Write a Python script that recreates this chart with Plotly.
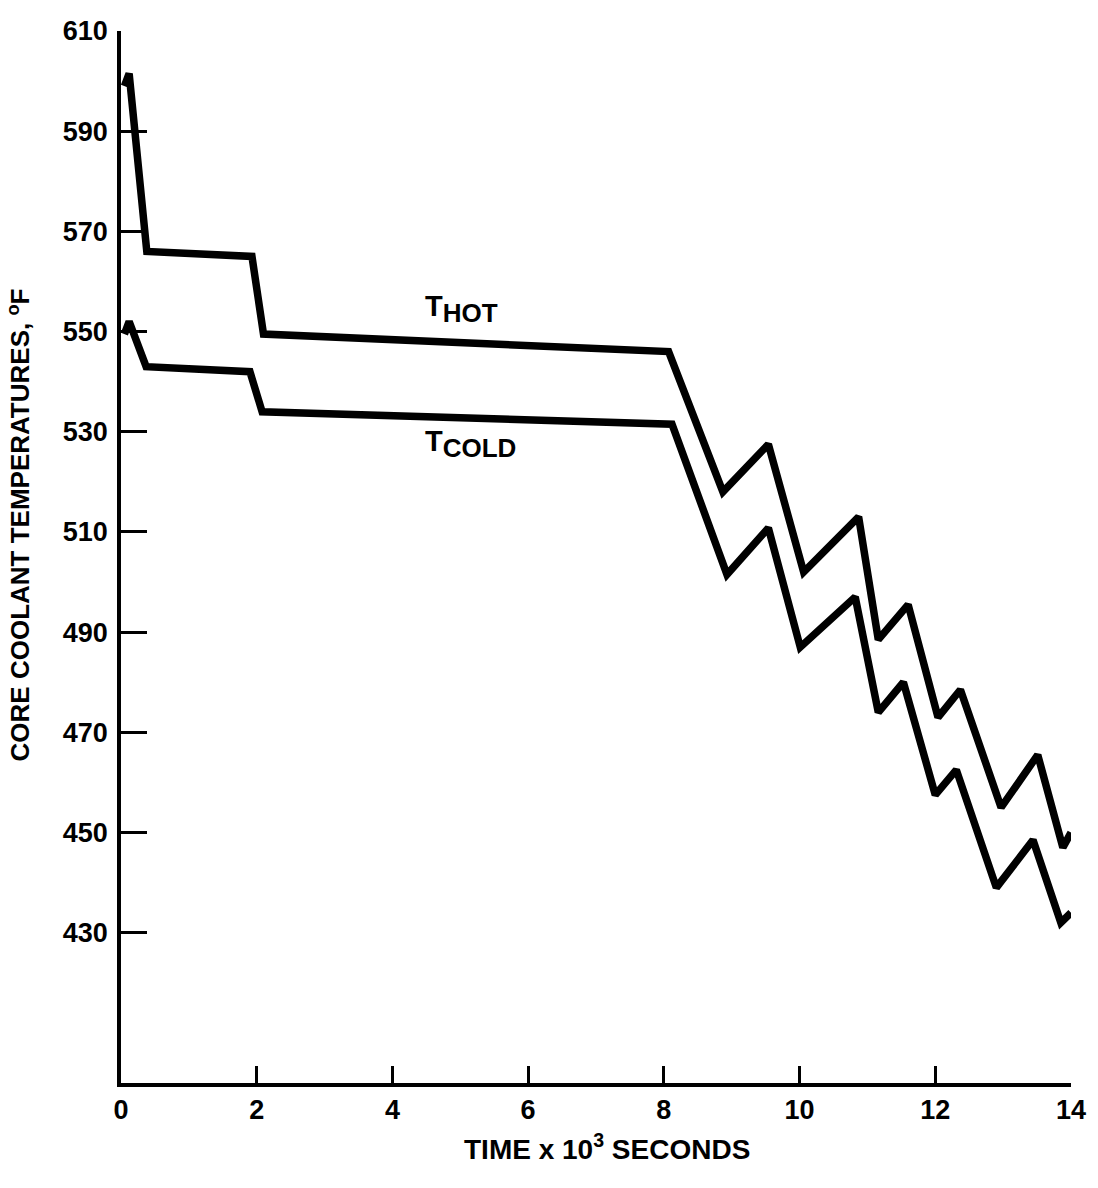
import plotly.graph_objects as go

# Time axis in thousands of seconds
time_hot = [0.05, 0.12, 0.38, 1.93, 2.10, 8.07, 8.87, 9.54, 10.06, 10.87,
            11.16, 11.60, 12.04, 12.37, 12.97, 13.51, 13.88, 14.00]
temp_hot = [599.0, 601.5, 566.0, 565.0, 549.5, 546.0, 518.0, 527.5, 502.0, 513.0,
            488.5, 495.5, 473.0, 478.5, 455.0, 465.5, 447.0, 450.0]

time_cold = [0.05, 0.12, 0.37, 1.90, 2.08, 8.12, 8.93, 9.54, 10.01, 10.82,
             11.16, 11.53, 12.00, 12.31, 12.90, 13.44, 13.85, 14.00]
temp_cold = [549.5, 552.0, 543.0, 542.0, 534.0, 531.5, 501.5, 510.8, 487.0, 497.0,
             474.0, 480.0, 457.5, 462.5, 439.0, 448.5, 432.0, 434.0]

x_ticks = [0, 2, 4, 6, 8, 10, 12, 14]
y_ticks = [430, 450, 470, 490, 510, 530, 550, 570, 590, 610]

FONT = "Liberation Sans, Arial, Helvetica, sans-serif"
INK = "#000000"

fig = go.Figure()
for xs, ys, name in [(time_hot, temp_hot, "T HOT"), (time_cold, temp_cold, "T COLD")]:
    fig.add_trace(go.Scatter(
        x=xs, y=ys, mode="lines", name=name,
        line=dict(color=INK, width=7.5),
        showlegend=False,
    ))

# Curve labels
label_font = dict(family=FONT, size=29, color=INK, weight="bold")
fig.add_annotation(x=4.45, y=554.5, xref="x", yref="y", xanchor="left", yanchor="middle",
                   text="T<sub><span style='font-size:26px'>HOT</span></sub>",
                   showarrow=False, font=label_font)
fig.add_annotation(x=4.45, y=527.5, xref="x", yref="y", xanchor="left", yanchor="middle",
                   text="T<sub><span style='font-size:26px'>COLD</span></sub>",
                   showarrow=False, font=label_font)

# Axis titles
fig.add_annotation(x=0, y=0.53, xref="paper", yref="paper", xshift=-102,
                   xanchor="center", yanchor="middle", textangle=-90,
                   text="CORE COOLANT TEMPERATURES, <sup>o</sup>F",
                   showarrow=False, font=dict(family=FONT, size=26, color=INK, weight="bold"))
fig.add_annotation(x=0.512, y=0, xref="paper", yref="paper", yshift=-64,
                   xanchor="center", yanchor="middle",
                   text="TIME x 10<sup>3</sup> SECONDS",
                   showarrow=False, font=dict(family=FONT, size=28, color=INK, weight="bold"))

tick_font = dict(family=FONT, size=27, color=INK, weight="bold")
fig.update_xaxes(
    range=[0, 14], tickvals=x_ticks, ticktext=[str(v) for v in x_ticks],
    showgrid=False, zeroline=False, showline=True, linecolor=INK, linewidth=3.5,
    ticks="inside", ticklen=17, tickwidth=3, tickcolor=INK,
    tickfont=tick_font, ticklabelstandoff=0,
)
fig.update_yaxes(
    range=[400, 610], tickvals=y_ticks, ticktext=[str(v) for v in y_ticks],
    showgrid=False, zeroline=False, showline=True, linecolor=INK, linewidth=3.5,
    ticks="inside", ticklen=26, tickwidth=3, tickcolor=INK,
    tickfont=tick_font, ticklabelstandoff=4,
)

fig.update_layout(
    width=1098, height=1188,
    margin=dict(l=121, r=25, t=31, b=105),
    paper_bgcolor="white", plot_bgcolor="white",
    font=dict(family=FONT, color=INK),
)

fig.write_html("out.html")
